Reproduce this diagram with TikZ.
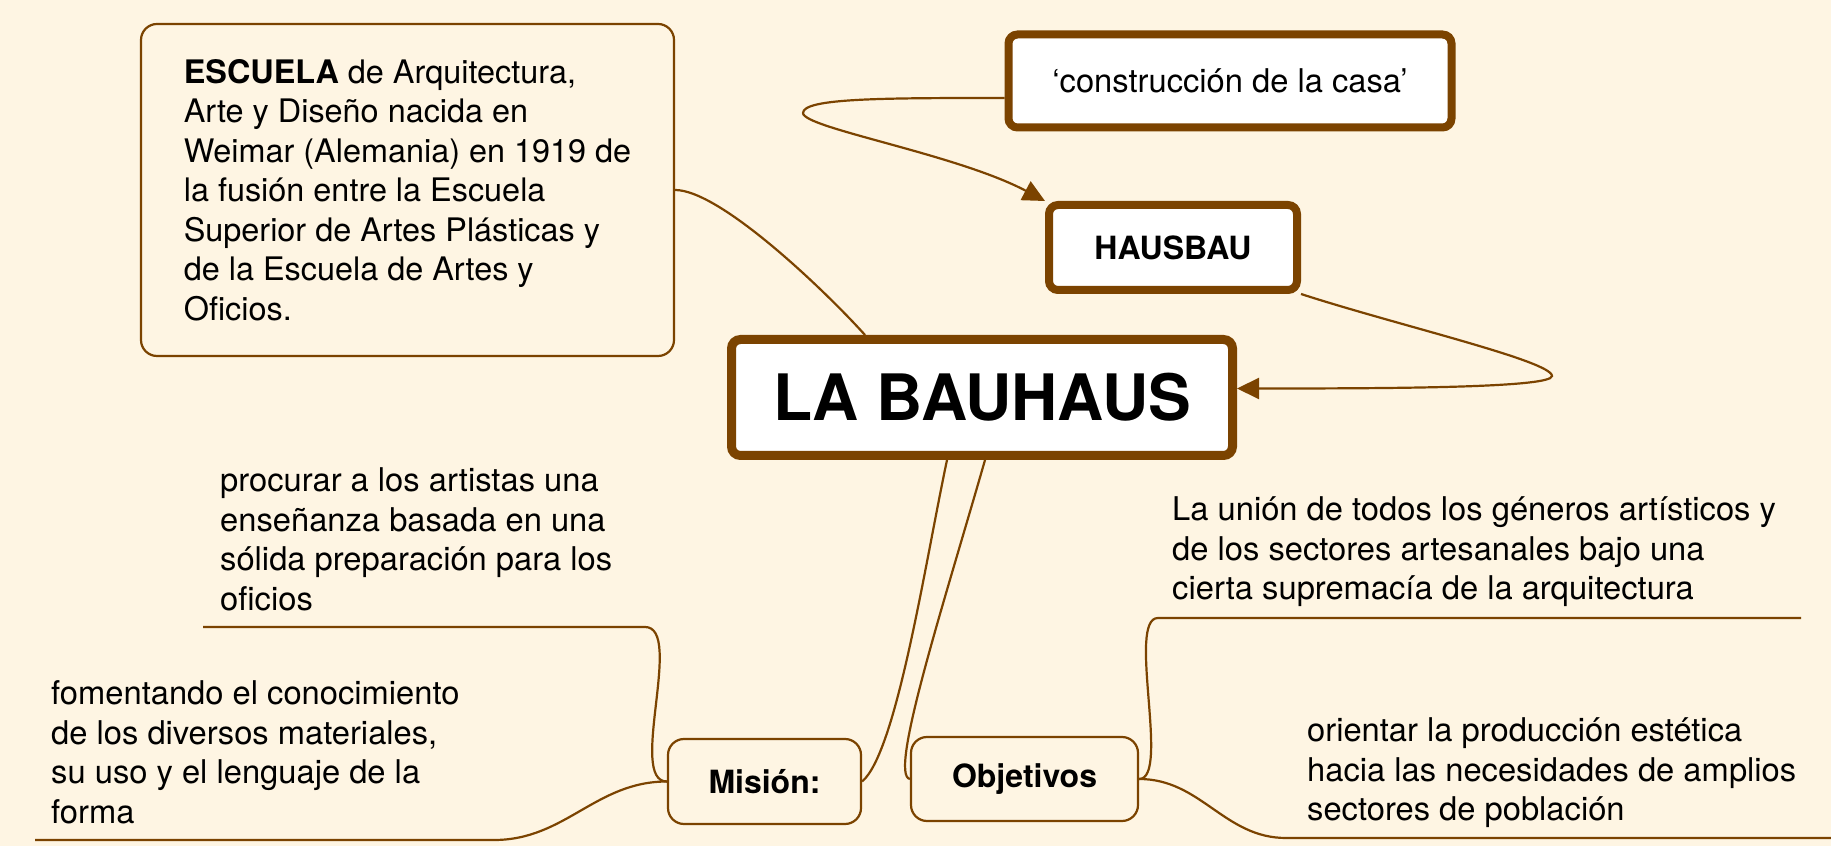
\documentclass[tikz,border=0pt]{standalone}
\usepackage{fontspec}
\setmainfont{TeX Gyre Heros}
\usetikzlibrary{arrows.meta}
\definecolor{brownline}{HTML}{7B4300}
\definecolor{cream}{HTML}{FEF5E3}
\newcommand{\txtsize}{\fontsize{32.7}{39.5}\selectfont}
\begin{document}
\begin{tikzpicture}[x=1pt,y=1pt,
  thinbox/.style={draw=brownline, line width=2.2pt, rounded corners=16pt},
  thickbox/.style={draw=brownline, fill=white, line width=8pt, rounded corners=9pt},
  txt/.style={font=\txtsize, align=left, anchor=base west, inner sep=0pt},
  link/.style={draw=brownline, line width=2.2pt},
  tip/.style={-{Triangle[length=22pt,width=21pt]}}]
\path[use as bounding box, fill=cream] (0,0) rectangle (1831,846);

\node[thinbox, minimum width=533, minimum height=332, align=left, font=\fontsize{32.4}{39.5}\selectfont] (escuela) at (407.5,656)
  {\textbf{ESCUELA} de Arquitectura,\\ Arte y Diseño nacida en\\ Weimar (Alemania) en 1919 de\\ la fusión entre la Escuela\\ Superior de Artes Plásticas y\\ de la Escuela de Artes y\\ Oficios.};
\node[thickbox, minimum width=443, minimum height=93, font=\txtsize] (casa) at (1230,765) {‘construcción de la casa’};
\node[thickbox, minimum width=248, minimum height=85, font=\fontsize{32}{38}\selectfont\bfseries] (hausbau) at (1173,598.5) {HAUSBAU};
\node[thickbox, line width=9pt, minimum width=501, minimum height=116, font=\fontsize{64}{70}\selectfont\bfseries] (bauhaus) at (982,448.5) {LA BAUHAUS};
\node[thinbox, minimum width=193, minimum height=85, font=\fontsize{32}{38}\selectfont\bfseries] (mision) at (764.5,64.5) {Misión:};
\node[thinbox, minimum width=227, minimum height=84, font=\fontsize{32}{38}\selectfont\bfseries] (objetivos) at (1024.5,67) {Objetivos};

\node[txt] (procurar) at (220,235.5) {procurar a los artistas una\\ enseñanza basada en una\\ sólida preparación para los\\ oficios};
\node[txt] (fomentando) at (51,23) {fomentando el conocimiento\\ de los diversos materiales,\\ su uso y el lenguaje de la\\ forma};
\node[txt] (union) at (1172,246) {La unión de todos los géneros artísticos y\\ de los sectores artesanales bajo una\\ cierta supremacía de la arquitectura};
\node[txt] (orientar) at (1307,25) {orientar la producción estética\\ hacia las necesidades de amplios\\ sectores de población};

\coordinate (casaloop) at (803,733);
\coordinate (bauloop) at (1552,470);
\coordinate (procurar-r) at (645,219);
\coordinate (procurar-l) at (203,219);
\coordinate (fomentando-r) at (494,6);
\coordinate (fomentando-l) at (35,6);
\coordinate (union-l) at (1158,228);
\coordinate (union-r) at (1801,228);
\coordinate (orientar-l) at (1286,8);
\coordinate (orientar-r) at (1831,8);

\path[link] (escuela.east) to[out=0,in=132,out distance=45pt,in distance=60pt] ([xshift=-117pt]bauhaus.north);
\path[link,tip] ([yshift=-17pt]casa.west) to[out=180,in=90,out distance=120pt,in distance=15pt] (casaloop)
  to[out=-90,in=152,out distance=15pt,in distance=100pt] (hausbau.north west);
\path[link,tip] (hausbau.south east) to[out=-18,in=90,out distance=100pt,in distance=15pt] (bauloop)
  to[out=-90,in=0,out distance=12pt,in distance=150pt] ([yshift=9pt]bauhaus.east);
\path[link] ([xshift=-35pt]bauhaus.south) to[out=258,in=40,out distance=105pt,in distance=45pt] (mision.east);
\path[link] ([xshift=3pt]bauhaus.south) to[out=254,in=170,out distance=150pt,in distance=22pt] (objetivos.west);

\path[link] (mision.west) to[out=180,in=0,looseness=0.65] (procurar-r) -- (procurar-l);
\path[link] (mision.west) to[out=180,in=0] (fomentando-r) -- (fomentando-l);
\path[link] (objetivos.east) to[out=0,in=180,looseness=0.5] (union-l) -- (union-r);
\path[link] (objetivos.east) to[out=0,in=180] (orientar-l) -- (orientar-r);
\end{tikzpicture}
\end{document}
